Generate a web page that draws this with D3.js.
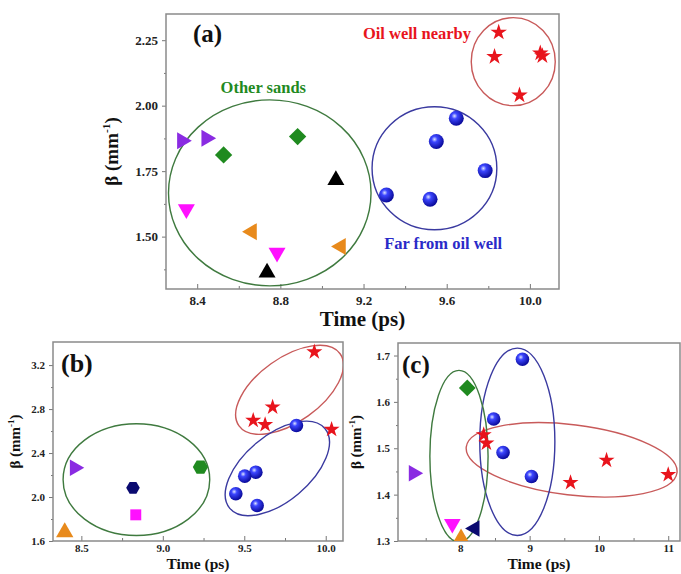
<!DOCTYPE html>
<html>
<head>
<meta charset="utf-8">
<script src="https://cdn.jsdelivr.net/npm/d3@7"></script>
<style>
  body { margin: 0; background: #fff; }
  text { font-family: "Liberation Serif", "Times New Roman", serif; font-weight: bold; }
</style>
</head>
<body>
<div id="chart"></div>
<script>
// ---- panel (a) ----
var aStars   = [[9.85,2.28],[9.83,2.187],[10.05,2.20],[10.06,2.19],[9.95,2.04]]
var aBalls   = [[9.646,1.952],[9.55,1.863],[9.785,1.752],[9.31,1.659],[9.52,1.643]]
var aRight   = [[8.327,1.866],[8.444,1.876]]
var aDiamond = [[8.527,1.812],[8.883,1.882]]
var aUp      = [[9.067,1.716],[8.736,1.363]]
var aDown    = [[8.348,1.605],[8.784,1.439]]
var aLeft    = [[8.663,1.519],[9.091,1.462]]
var aOvals   = [[9.92,2.168,0.202,0.168,0],[9.541,1.761,0.30,0.235,0],[8.749,1.667,0.487,0.355,0]]
var aXTicks  = [8.4,8.8,9.2,9.6,10.0]
var aYTicks  = [1.50,1.75,2.00,2.25]

// ---- panel (b) ----
var bStars   = [[9.93,3.32],[9.674,2.818],[9.555,2.697],[9.628,2.658],[10.036,2.615]]
var bBalls   = [[9.82,2.65],[9.571,2.226],[9.503,2.19],[9.448,2.03],[9.579,1.923]]
var bRight   = [[8.459,2.266]]
var bGreen   = [[9.231,2.272]]
var bNavy    = [[8.817,2.084]]
var bSquare  = [[8.834,1.838]]
var bUp      = [[8.398,1.68]]
var bOvals   = [[9.778,2.975,0.381,0.291,-35.5],[9.703,2.26,0.381,0.30,-40],[8.838,2.158,0.45,0.508,0]]
var bXTicks  = [8.5,9.0,9.5,10.0]
var bYTicks  = [1.6,2.0,2.4,2.8,3.2]

// ---- panel (c) ----
var cStars   = [[8.337,1.529],[8.376,1.511],[9.59,1.426],[10.11,1.474],[11.0,1.443]]
var cBalls   = [[8.896,1.692],[8.481,1.563],[8.616,1.491],[9.026,1.439]]
var cDiamond = [[8.1,1.63]]
var cRight   = [[7.325,1.446]]
var cDown    = [[7.884,1.337]]
var cNavyL   = [[8.207,1.327]]
var cUp      = [[8.01,1.306]]
var cOvals   = [[9.606,1.475,1.532,0.0757,7],[8.822,1.514,0.542,0.202,0],[7.98,1.483,0.42,0.185,0]]
var cXTicks  = [8,9,10,11]
var cYTicks  = [1.3,1.4,1.5,1.6,1.7]

var RED = "#e8141c", BLUE = "#1a1aee", PURPLE = "#8a2be2", GREEN = "#1f8a1f",
    MAGENTA = "#ff10ff", ORANGE = "#e88a1c", NAVY = "#0a0a70"
var OVAL = ["#c85a5a", "#3a3aa0", "#3f7a3f"]
var SERIF = "'Liberation Serif', 'Times New Roman', serif"

var svg = d3.select("#chart").append("svg").attr("width", 681).attr("height", 574)

// sphere gradient
var grad = svg.append("defs").append("radialGradient").attr("id", "ball")
  .attr("cx", "38%").attr("cy", "35%").attr("r", "65%")
grad.append("stop").attr("offset", "0%").attr("stop-color", "#dde4ff")
grad.append("stop").attr("offset", "30%").attr("stop-color", "#3c46ff")
grad.append("stop").attr("offset", "100%").attr("stop-color", "#0a0a9a")

var hexagon = {draw: function(ctx, size) {
  var r = Math.sqrt(size / 2.598)
  for (var i = 0; i < 6; i++) {
    var a = Math.PI / 3 * i
    if (i == 0) ctx.moveTo(r * Math.cos(a), r * Math.sin(a))
    else ctx.lineTo(r * Math.cos(a), r * Math.sin(a))
  }
  ctx.closePath()
}}

function panel(p) {
  var g = svg.append("g")
  var x = d3.scaleLinear().domain(p.xd).range([p.l, p.r])
  var y = d3.scaleLinear().domain(p.yd).range([p.b, p.t])
  var clip = "clip" + p.name
  svg.select("defs").append("clipPath").attr("id", clip)
    .append("rect").attr("x", p.l).attr("y", p.t).attr("width", p.r - p.l).attr("height", p.b - p.t)

  // axes
  var xa = g.append("g").attr("transform", "translate(0," + p.b + ")")
    .call(d3.axisBottom(x).tickValues(p.xt).tickFormat(d3.format(p.xf)).tickSizeInner(-5).tickSizeOuter(0).tickPadding(p.xp))
  xa.append("g").call(d3.axisBottom(x).tickValues(p.xm).tickSize(-3).tickFormat(""))
  var ya = g.append("g").attr("transform", "translate(" + p.l + ",0)")
    .call(d3.axisLeft(y).tickValues(p.yt).tickFormat(d3.format(p.yf)).tickSizeInner(4).tickSizeOuter(0).tickPadding(4))
  ya.append("g").call(d3.axisLeft(y).tickValues(p.ym).tickSize(2).tickFormat(""))
  g.selectAll(".domain").remove()
  g.selectAll(".tick line").attr("stroke", "#777")
  g.selectAll(".tick text").attr("font-family", SERIF).attr("font-weight", "bold")
    .attr("font-size", p.tf).attr("fill", "#222")
  g.append("rect").attr("x", p.l).attr("y", p.t).attr("width", p.r - p.l).attr("height", p.b - p.t)
    .attr("fill", "none").attr("stroke", "#8a8a8a").attr("stroke-width", 1.5)

  g.append("text").attr("x", (p.l + p.r) / 2).attr("y", p.xty).attr("text-anchor", "middle")
    .attr("font-family", SERIF).attr("font-size", p.lf).attr("fill", "#111").text("Time (ps)")
  var yl = g.append("text").attr("transform", "translate(" + p.ylx + "," + ((p.t + p.b) / 2) + ") rotate(-90)")
    .attr("text-anchor", "middle").attr("font-family", SERIF).attr("font-size", p.yls).attr("fill", "#111")
  yl.append("tspan").text("\u03b2 (mm")
  yl.append("tspan").attr("dy", -p.yls * 0.4).attr("font-size", p.yls * 0.6).text("-1")
  yl.append("tspan").attr("dy", p.yls * 0.4).text(")")

  g.append("text").attr("x", p.tagx).attr("y", p.tagy).attr("font-family", SERIF)
    .attr("font-size", p.tags).attr("fill", "#111").text(p.tag)

  var inner = g.append("g").attr("clip-path", "url(#" + clip + ")")
  // ovals
  inner.selectAll("ellipse.o").data(p.ovals).join("ellipse")
    .attr("cx", 0).attr("cy", 0)
    .attr("rx", function(d) { return Math.abs(x(d[0] + d[2]) - x(d[0])) })
    .attr("ry", function(d) { return Math.abs(y(d[1] + d[3]) - y(d[1])) })
    .attr("transform", function(d) { return "translate(" + x(d[0]) + "," + y(d[1]) + ") rotate(" + d[4] + ")" })
    .attr("fill", "none").attr("stroke", function(d, i) { return OVAL[i] }).attr("stroke-width", 1.4)

  p.series.forEach(function(s) {
    inner.selectAll(null).data(s.pts).join("path")
      .attr("d", d3.symbol().type(s.type).size(s.size))
      .attr("transform", function(d) { return "translate(" + x(d[0]) + "," + y(d[1]) + ") rotate(" + (s.rot || 0) + ")" })
      .attr("fill", s.fill)
      .attr("stroke", s.stroke || "none").attr("stroke-width", 0.5)
  })

  ;(p.notes || []).forEach(function(n) {
    g.append("text").attr("x", x(n[0])).attr("y", y(n[1])).attr("text-anchor", "middle")
      .attr("dy", "0.35em").attr("font-family", SERIF).attr("font-size", 16.5).attr("fill", n[3]).text(n[2])
  })
}

var ball = "url(#ball)"
panel({
  name: "a", l: 166, r: 559, t: 14, b: 289, xd: [8.25, 10.14], yd: [1.30, 2.35],
  xt: aXTicks, yt: aYTicks, xm: [8.6, 9.0, 9.4, 9.8], ym: [1.375, 1.625, 1.875, 2.125],
  xf: ".1f", yf: ".2f", tf: 13, lf: 21, yls: 19, xp: 7, xty: 326, ylx: 118, tag: "(a)", tags: 25, tagx: 193, tagy: 42,
  ovals: aOvals,
  series: [
    {pts: aStars, type: d3.symbolStar, size: 85, fill: RED},
    {pts: aBalls, type: d3.symbolCircle, size: 175, fill: ball},
    {pts: aRight, type: d3.symbolTriangle, size: 125, fill: PURPLE, rot: 90},
    {pts: aDiamond, type: d3.symbolSquare, size: 150, fill: GREEN, rot: 45},
    {pts: aUp, type: d3.symbolTriangle, size: 125, fill: "#000"},
    {pts: aDown, type: d3.symbolTriangle, size: 125, fill: MAGENTA, rot: 180},
    {pts: aLeft, type: d3.symbolTriangle, size: 125, fill: ORANGE, rot: -90}
  ],
  notes: [[9.457, 2.277, "Oil well nearby", RED], [8.718, 2.071, "Other sands", GREEN],
          [9.583, 1.476, "Far from oil well", "#2a2ac8"]]
})

panel({
  name: "b", l: 53, r: 343, t: 342, b: 541, xd: [8.326, 10.106], yd: [1.6, 3.41],
  xt: bXTicks, yt: bYTicks, xm: [8.75, 9.25, 9.75], ym: [1.8, 2.2, 2.6, 3.0],
  xf: ".1f", yf: ".1f", tf: 11, lf: 15.5, yls: 15, xp: 3, xty: 569, ylx: 20, tag: "(b)", tags: 26, tagx: 61, tagy: 372,
  ovals: bOvals,
  series: [
    {pts: bStars, type: d3.symbolStar, size: 80, fill: RED},
    {pts: bBalls, type: d3.symbolCircle, size: 145, fill: ball},
    {pts: bRight, type: d3.symbolTriangle, size: 120, fill: PURPLE, rot: 90},
    {pts: bGreen, type: hexagon, size: 150, fill: GREEN},
    {pts: bNavy, type: hexagon, size: 120, fill: NAVY},
    {pts: bSquare, type: d3.symbolSquare, size: 120, fill: MAGENTA},
    {pts: bUp, type: d3.symbolTriangle, size: 130, fill: ORANGE}
  ]
})

panel({
  name: "c", l: 398, r: 680, t: 343, b: 541, xd: [7.1, 11.17], yd: [1.3, 1.727],
  xt: cXTicks, yt: cYTicks, xm: [7.5, 8.5, 9.5, 10.5], ym: [1.35, 1.45, 1.55, 1.65],
  xf: "d", yf: ".1f", tf: 11, lf: 15.5, yls: 15, xp: 3, xty: 569, ylx: 361, tag: "(c)", tags: 25, tagx: 402, tagy: 373,
  ovals: cOvals,
  series: [
    {pts: cStars, type: d3.symbolStar, size: 80, fill: RED},
    {pts: cBalls, type: d3.symbolCircle, size: 145, fill: ball},
    {pts: cDiamond, type: d3.symbolSquare, size: 140, fill: GREEN, rot: 45},
    {pts: cRight, type: d3.symbolTriangle, size: 120, fill: PURPLE, rot: 90},
    {pts: cDown, type: d3.symbolTriangle, size: 120, fill: MAGENTA, rot: 180},
    {pts: cNavyL, type: d3.symbolTriangle, size: 120, fill: NAVY, rot: -90},
    {pts: cUp, type: d3.symbolTriangle, size: 120, fill: ORANGE}
  ]
})
</script>
</body>
</html>
